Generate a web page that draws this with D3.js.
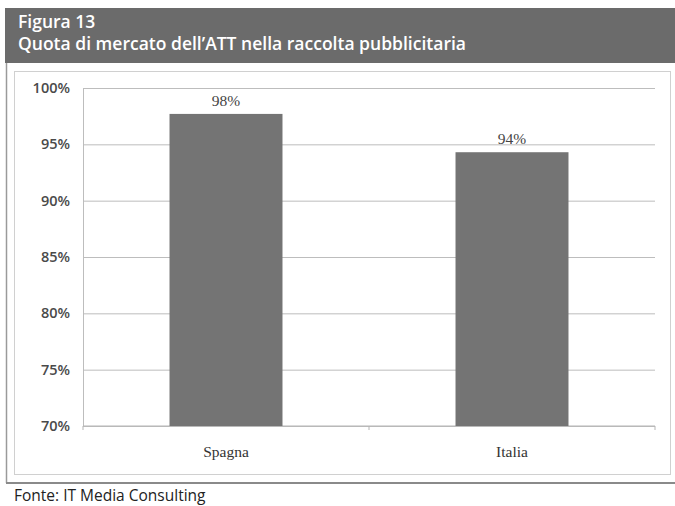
<!DOCTYPE html>
<html>
<head>
<meta charset="utf-8">
<script src="https://cdn.jsdelivr.net/npm/d3@7"></script>
<style>
  html, body { margin: 0; padding: 0; background: #fff; }
  svg { display: block; }
</style>
</head>
<body>
<svg id="chart" width="675" height="506"></svg>
<script>
// Market share of the ATT in advertising revenue
const titleLines = ["Figura 13", "Quota di mercato dell\u2019ATT nella raccolta pubblicitaria"];
const sourceText = "Fonte: IT Media Consulting";
const categories = ["Spagna", "Italia"];
const shares = [0.977, 0.943];
const yTicks = [0.70, 0.75, 0.80, 0.85, 0.90, 0.95, 1.00];

const svg = d3.select("#chart");
const W = 675, H = 506;

// Header band
svg.append("rect").attr("x", 5).attr("y", 8).attr("width", W - 5).attr("height", 55)
  .attr("fill", "#6b6b6b");
svg.append("g").selectAll("text").data(titleLines).join("text")
  .attr("x", 18).attr("y", (d, i) => 28 + i * 22)
  .attr("fill", "#fff")
  .attr("font-family", "'Open Sans', 'DejaVu Sans', sans-serif")
  .attr("font-size", 17.5).attr("font-weight", 600)
  .attr("textLength", (d, i) => i === 1 ? 448 : null)
  .attr("lengthAdjust", "spacingAndGlyphs")
  .text(d => d);

// Outer box (left edge and bottom rule)
svg.append("line").attr("x1", 6.5).attr("x2", 6.5).attr("y1", 63).attr("y2", 483)
  .attr("stroke", "#9a9a9a").attr("stroke-width", 1.5);
svg.append("line").attr("x1", 6).attr("x2", W).attr("y1", 483).attr("y2", 483)
  .attr("stroke", "#8a8a8a").attr("stroke-width", 2);

// Inner chart frame
svg.append("rect").attr("x", 14.5).attr("y", 71.5).attr("width", 656).attr("height", 403)
  .attr("fill", "#fff").attr("stroke", "#d0d0d0").attr("stroke-width", 1);

// Plot area
const plot = { left: 83, right: 655, top: 88, bottom: 426 };

const y = d3.scaleLinear().domain([0.70, 1.00]).range([plot.bottom, plot.top]);
const x = d3.scaleBand().domain(categories)
  .range([plot.left, plot.right])
  .paddingInner(0.605).paddingOuter(0.3025);

// Gridlines + y labels
const yAxis = d3.axisLeft(y).tickValues(yTicks)
  .tickSize(-(plot.right - plot.left)).tickPadding(13)
  .tickFormat(d3.format(".0%"));
const gy = svg.append("g").attr("transform", `translate(${plot.left},0)`).call(yAxis);
gy.select(".domain").attr("stroke", "#bdbdbd");
gy.selectAll(".tick line").attr("stroke", "#bdbdbd");
gy.selectAll(".tick text")
  .attr("fill", "#4a4a4a")
  .attr("font-family", "'Open Sans', 'DejaVu Sans', sans-serif")
  .attr("font-size", 14.5).attr("font-weight", 600);

// X axis with ticks between categories
const xBounds = [plot.left, (plot.left + plot.right) / 2, plot.right];
svg.append("line").attr("x1", plot.left).attr("x2", plot.right)
  .attr("y1", y(0.70)).attr("y2", y(0.70)).attr("stroke", "#b5b5b5");
svg.append("g").selectAll("line").data(xBounds).join("line")
  .attr("x1", d => d).attr("x2", d => d)
  .attr("y1", y(0.70)).attr("y2", y(0.70) + 4).attr("stroke", "#b5b5b5");

// Bars
svg.append("g").selectAll("rect").data(categories).join("rect")
  .attr("x", d => x(d))
  .attr("width", x.bandwidth())
  .attr("y", (d, i) => y(shares[i]))
  .attr("height", (d, i) => y(0.70) - y(shares[i]))
  .attr("fill", "#747474");

// Value labels
svg.append("g").selectAll("text").data(categories).join("text")
  .attr("x", d => x(d) + x.bandwidth() / 2)
  .attr("y", (d, i) => y(shares[i]) - 8)
  .attr("text-anchor", "middle")
  .attr("fill", "#444")
  .attr("font-family", "'Liberation Serif', 'DejaVu Serif', serif")
  .attr("font-size", 15.5)
  .text((d, i) => d3.format(".0%")(shares[i]));

// Category labels
svg.append("g").selectAll("text").data(categories).join("text")
  .attr("x", d => x(d) + x.bandwidth() / 2)
  .attr("y", 457)
  .attr("text-anchor", "middle")
  .attr("fill", "#333")
  .attr("font-family", "'Liberation Serif', 'DejaVu Serif', serif")
  .attr("font-size", 15.5)
  .text(d => d);

// Source
svg.append("text").attr("x", 14).attr("y", 501)
  .attr("fill", "#222")
  .attr("font-family", "'Open Sans', 'DejaVu Sans', sans-serif")
  .attr("font-size", 15.5)
  .text(sourceText);
</script>
</body>
</html>
